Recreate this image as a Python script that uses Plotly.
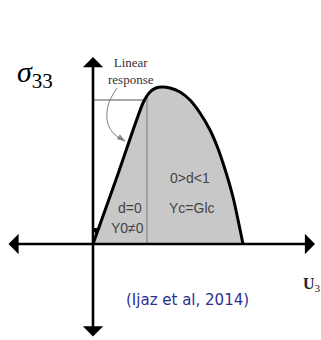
import plotly.graph_objects as go

# traction-separation curve (displacement u, normal stress sigma33)
u_curve = [0.0, 0.25, 0.50, 0.57, 0.63, 0.69, 0.77, 0.87, 0.97, 1.07, 1.17, 1.24, 1.30, 1.40, 1.50]
s_curve = [0.0, 0.70, 1.41, 1.52, 1.56, 1.57, 1.56, 1.52, 1.44, 1.31, 1.14, 0.98, 0.81, 0.47, 0.0]

# end of the linear response
u_lin = [0.0, 0.52]
s_lin = [1.44, 1.44]
u_split = [0.54, 0.54]
s_split = [0.0, 1.47]

# curved pointer from the "Linear response" label
u_ptr = [0.24, 0.17, 0.14, 0.15, 0.21, 0.32]
s_ptr = [1.56, 1.44, 1.32, 1.20, 1.10, 1.03]

# small dark wedge at the start of the curve
u_wedge = [0.03]
s_wedge = [0.14]

# axis extents (arrow tips)
u_axis = [-0.86, 2.22]
s_axis = [-0.94, 1.87]

region_labels = ["d=0", "Y0≠0", "0>d<1", "Yc=Glc"]
region_u = [0.37, 0.34, 0.97, 0.99]
region_s = [0.36, 0.16, 0.66, 0.36]

fig = go.Figure()

# grey area under the curve
fig.add_trace(go.Scatter(
    x=u_curve, y=s_curve, mode='lines', fill='tozeroy',
    fillcolor='#c8c8c8', line=dict(width=0, shape='spline', smoothing=0.6),
    hoverinfo='skip'
))

fig.add_trace(go.Scatter(x=u_lin, y=s_lin, mode='lines',
                         line=dict(color='#555555', width=1.2), hoverinfo='skip'))
fig.add_trace(go.Scatter(x=u_split, y=s_split, mode='lines',
                         line=dict(color='#7a7a7a', width=1), hoverinfo='skip'))

# curve outline
fig.add_trace(go.Scatter(
    x=u_curve, y=s_curve, mode='lines',
    line=dict(color='black', width=3, shape='spline', smoothing=0.6),
    hoverinfo='skip'
))

fig.add_trace(go.Scatter(x=u_wedge, y=s_wedge, mode='markers',
                         marker=dict(symbol='triangle-down', size=8, color='black'),
                         hoverinfo='skip'))

# pointer
fig.add_trace(go.Scatter(
    x=u_ptr, y=s_ptr, mode='lines+markers',
    line=dict(color='#808080', width=1, shape='spline'),
    marker=dict(symbol='arrow', angleref='previous', color='#606060',
                size=[0] * (len(u_ptr) - 1) + [8]),
    hoverinfo='skip'
))

# axes with arrows at both ends
fig.add_annotation(x=u_axis[1], y=0, ax=u_axis[0], ay=0, xref='x', yref='y',
                   axref='x', ayref='y', text='', showarrow=True,
                   arrowhead=1, arrowside='end+start', arrowsize=1.3,
                   arrowwidth=2.6, arrowcolor='black')
fig.add_annotation(x=0, y=s_axis[1], ax=0, ay=s_axis[0], xref='x', yref='y',
                   axref='x', ayref='y', text='', showarrow=True,
                   arrowhead=1, arrowside='end+start', arrowsize=1.3,
                   arrowwidth=2.6, arrowcolor='black')

for lab, u, s in zip(region_labels, region_u, region_s):
    fig.add_annotation(x=u, y=s, text=lab, showarrow=False,
                       font=dict(family='Liberation Sans', size=14, color='#444444'))

fig.add_annotation(x=0.38, y=1.73, text='Linear<br>response', showarrow=False,
                   font=dict(family='Liberation Serif', size=13, color='#333333'))

fig.add_annotation(x=-0.78, y=1.70, text='<i>σ</i><sub>33</sub>', showarrow=False,
                   xanchor='left', font=dict(family='Liberation Serif', size=30, color='black'))

fig.add_annotation(x=2.08, y=-0.40, text='<b>U</b><sub>3</sub>', showarrow=False,
                   xanchor='left', font=dict(family='Liberation Serif', size=16, color='#222222'))

fig.add_annotation(x=0.94, y=-0.56, text='(Ijaz et al, 2014)', showarrow=False,
                   font=dict(family='DejaVu Sans', size=15, color='#2d2f8f'))

fig.update_layout(
    width=321, height=340,
    margin=dict(l=0, r=0, t=0, b=0),
    paper_bgcolor='white', plot_bgcolor='white',
    showlegend=False,
    xaxis=dict(range=[-0.93, 2.28], visible=False),
    yaxis=dict(range=[-0.96, 2.44], visible=False),
)

# drop the page's default body margin so the figure sits at the window corner
fig.write_html("out.html", config={'displayModeBar': False},
               post_script="document.body.style.margin='0px';")
